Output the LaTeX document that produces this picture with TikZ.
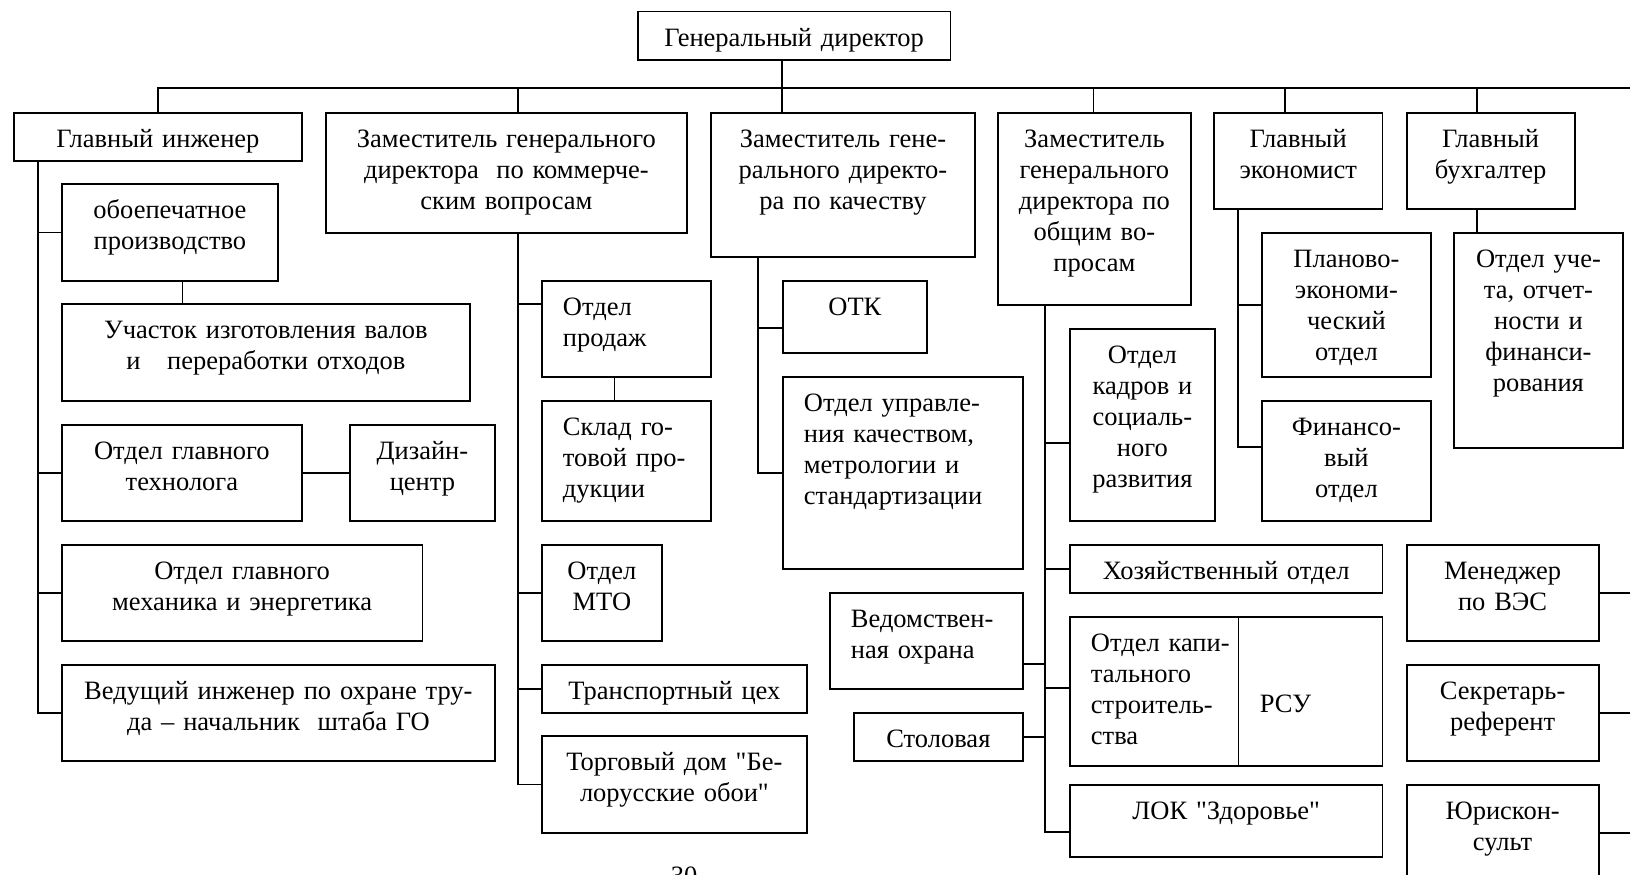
\documentclass[tikz,border=0pt]{standalone}
\usepackage{fontspec}
\setmainfont{Liberation Serif}[Ligatures=TeXOff]

\begin{document}
\begin{tikzpicture}[x=1pt, y=-1pt,
    every node/.style={font=\fontsize{26.5}{31}\selectfont},
    unit/.style 2 args={draw, line width=1.8pt, anchor=north west, inner ysep=0pt,
      inner xsep=6pt, align=center, text width=#1pt-12pt,
      text height=34.5pt, text depth=#2pt-34.5pt},
    unitl/.style 2 args={unit={#1}{#2}, align=left, inner xsep=21pt, text width=#1pt-42pt},
    link/.style={line width=1.8pt}]
   \path[use as bounding box, fill=white] (0,0) rectangle (1630,875);

   % top
   \node[unit={312.6}{48.3}] (gendir) at (637,10.7) {Генеральный директор};

   % first level
   \node[unit={288}{48.3}] (gi) at (13,111.7) {Главный инженер};
   \node[unit={361}{120}] (zamkom) at (325,111.7) {Заместитель генерального\\директора\ \ по коммерче-\\ским вопросам};
   \node[unit={264}{144.3}] (zamkach) at (710,111.7) {Заместитель гене-\\рального директо-\\ра по качеству};
   \node[unit={193}{192.3}] (zamobsh) at (997,111.7) {Заместитель\\генерального\\директора по\\общим во-\\просам};
   \node[unit={168.6}{96.6}] (glek) at (1213,111.7) {Главный\\экономист};
   \node[unit={168}{96.6}] (glbuh) at (1405.7,111.7) {Главный\\бухгалтер};

   % chief engineer
   \node[unit={216}{97}] (obo) at (61,183) {обоепечатное\\производство};
   \node[unit={408}{97}] (uch) at (61,303) {Участок изготовления валов\\и\ \ \ переработки отходов};
   \node[unit={240}{96}] (ogt) at (61,424) {Отдел главного\\технолога};
   \node[unit={145}{96}] (diz) at (349,424) {Дизайн-\\центр};
   \node[unit={360.5}{96}] (ogm) at (61,544) {Отдел главного\\механика и энергетика};
   \node[unit={433}{96}] (vedi) at (61,664) {Ведущий инженер по охране тру-\\да – начальник\ \ штаба ГО};

   % commerce
   \node[unitl={169}{96}] (prod) at (541,280) {Отдел\\продаж};
   \node[unitl={169}{120}] (sklad) at (541,400) {Склад го-\\товой про-\\дукции};
   \node[unit={120}{96}] (mto) at (541,544) {Отдел\\МТО};
   \node[unit={265}{48}] (trans) at (541,664) {Транспортный цех};
   \node[unit={265}{97}] (torg) at (541,735) {Торговый дом "Бе-\\лорусские обои"};

   % quality
   \node[unit={144}{72}] (otk) at (782,280) {ОТК};
   \node[unitl={240}{191.7}] (ouk) at (782,376) {Отдел управле-\\ния качеством,\\метрологии и\\стандартизации};

   % general questions
   \node[unit={145}{192}] (kadr) at (1069,328) {Отдел\\кадров и\\социаль-\\ного\\развития};
   \node[unit={312.6}{48.3}] (hoz) at (1069,544) {Хозяйственный отдел};
   \node[unitl={312.6}{149}] (kap) at (1069,616) {Отдел капи-\\тального\\строитель-\\ства};
   \node[unitl={143.6}{149}, draw=none, text height=96pt, text depth=53pt] (rsu) at (1238,616) {РСУ};
   \node[unit={312.6}{72}] (lok) at (1069,784) {ЛОК "Здоровье"};
   \node[unitl={193}{95.4}] (ved) at (829,592.3) {Ведомствен-\\ная охрана};
   \node[unit={169}{48}] (stol) at (853,712) {Столовая};

   % economist, accountant
   \node[unit={169}{144.3}] (plan) at (1261,231.7) {Планово-\\экономи-\\ческий\\отдел};
   \node[unit={169}{120}] (fin) at (1261,400) {Финансо-\\вый\\отдел};
   \node[unit={169}{215.3}] (ouch) at (1453,231.7) {Отдел уче-\\та, отчет-\\ности и\\финанси-\\рования};

   % right column
   \node[unit={192}{96}] (ves) at (1405.7,544) {Менеджер\\по ВЭС};
   \node[unit={192}{96}] (sekr) at (1405.7,664) {Секретарь-\\референт};
   \node[unit={192}{96}] (jur) at (1405.7,784) {Юрискон-\\сульт};

   \node[anchor=north, inner sep=0pt] (page) at (684,867) {30};

   % bus
   \coordinate (bus-e) at (1630,87.7);
   \coordinate (t-zamkom) at (518,87.7);
   \coordinate (t-zamkach) at (782,87.7);
   \coordinate (t-zamobsh) at (1093.5,87.7);
   \coordinate (t-glek) at (1285,87.7);
   \coordinate (t-glbuh) at (1477,87.7);
   \draw[link] (gi.north) |- (bus-e);
   \draw[link] (t-zamkom) -- (t-zamkom |- zamkom.north);
   \draw[link] (t-zamkach |- gendir.south) -- (t-zamkach |- zamkach.north);
   \draw[link] (t-zamobsh) -- (t-zamobsh |- zamobsh.north);
   \draw[link] (t-glek) -- (t-glek |- glek.north);
   \draw[link] (t-glbuh) -- (t-glbuh |- glbuh.north);

   % chief engineer
   \coordinate (s-gi) at ([xshift=24.7pt]gi.south west);
   \draw[link] (s-gi) |- (vedi.west);
   \draw[link] (s-gi |- obo.west) -- (obo.west);
   \draw[link] (s-gi |- ogt.west) -- (ogt.west);
   \draw[link] (s-gi |- ogm.west) -- (ogm.west);
   \coordinate (c-uch) at ([xshift=12.5pt]obo.south);
   \draw[link] (c-uch) -- (c-uch |- uch.north);
   \draw[link] (ogt.east) -- (diz.west);

   % commerce
   \coordinate (s-zamkom) at (t-zamkom |- zamkom.south);
   \draw[link] (s-zamkom) |- (torg.west);
   \coordinate (c-prod) at ([yshift=-24pt]prod.north west);
   \draw[link] (s-zamkom |- c-prod) -- (c-prod);
   \draw[link] (s-zamkom |- mto.west) -- (mto.west);
   \draw[link] (s-zamkom |- trans.west) -- (trans.west);
   \coordinate (c-sklad) at ([xshift=-12pt]prod.south);
   \draw[link] (c-sklad) -- (c-sklad |- sklad.north);

   % quality
   \coordinate (s-zamkach) at ([xshift=48pt]zamkach.south west);
   \draw[link] (s-zamkach) |- (ouk.west);
   \coordinate (c-otk) at ([yshift=-48pt]otk.north west);
   \draw[link] (s-zamkach |- c-otk) -- (c-otk);

   % general questions
   \coordinate (s-zamobsh) at ([xshift=48pt]zamobsh.south west);
   \coordinate (c-lok) at ([yshift=-48pt]lok.north west);
   \draw[link] (s-zamobsh) |- (c-lok);
   \coordinate (c-kadr) at ([yshift=-115pt]kadr.north west);
   \draw[link] (s-zamobsh |- c-kadr) -- (c-kadr);
   \draw[link] (s-zamobsh |- hoz.west) -- (hoz.west);
   \coordinate (c-kap) at ([yshift=-72pt]kap.north west);
   \draw[link] (s-zamobsh |- c-kap) -- (c-kap);
   \coordinate (c-ved) at ([yshift=-72pt]ved.north east);
   \draw[link] (c-ved) -- (c-ved -| s-zamobsh);
   \draw[link] (stol.east) -- (stol.east -| s-zamobsh);
   \draw[line width=0.9pt] (rsu.north west) -- (rsu.south west);

   % economist, accountant
   \coordinate (s-glek) at ([xshift=25pt]glek.south west);
   \coordinate (c-fin) at ([yshift=-47pt]fin.north west);
   \draw[link] (s-glek) |- (c-fin);
   \draw[link] (s-glek |- plan.west) -- (plan.west);
   \coordinate (c-ouch) at (t-glbuh |- glbuh.south);
   \draw[link] (c-ouch) -- (c-ouch |- ouch.north);

   % right column
   \coordinate (edge) at (1630,0);
   \draw[link] (ves.east) -- (ves.east -| edge);
   \draw[link] (sekr.east) -- (sekr.east -| edge);
   \draw[link] (jur.east) -- (jur.east -| edge);
 \end{tikzpicture}
\end{document}
